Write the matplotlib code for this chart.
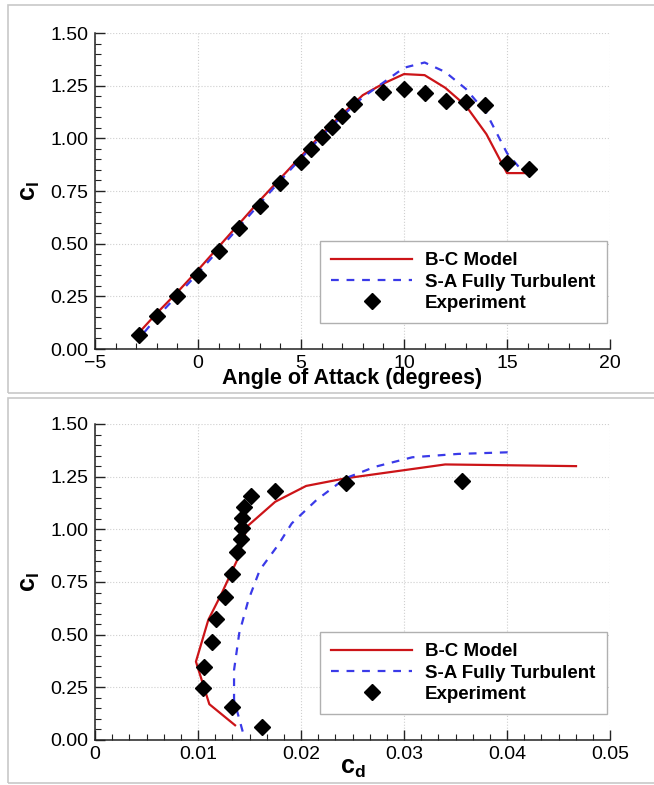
import numpy as np
import matplotlib
matplotlib.use('Agg')
import matplotlib.pyplot as plt
from matplotlib.ticker import MultipleLocator, AutoMinorLocator
from matplotlib.lines import Line2D

plt.rcParams['font.family'] = ['Liberation Sans', 'DejaVu Sans']
plt.rcParams['mathtext.fontset'] = 'custom'
plt.rcParams['mathtext.rm'] = 'Liberation Sans'
plt.rcParams['mathtext.bf'] = 'Liberation Sans:bold'

# lift curve, B-C model
bc_alpha = [-2.75, -2, -1, 0, 1, 2, 3, 4, 5, 6, 7, 8, 9, 10, 11, 12, 13, 14, 15, 16]
bc_cl = [0.09, 0.17, 0.27, 0.375, 0.485, 0.595, 0.705, 0.81, 0.915, 1.02, 1.115,
         1.205, 1.26, 1.305, 1.30, 1.24, 1.155, 1.02, 0.835, 0.835]

# lift curve, S-A fully turbulent
sa_alpha = [-2.6, -2, -1, 0, 1, 2, 3, 4, 5, 6, 7, 8, 9, 10, 11, 12, 13, 14, 15, 15.7]
sa_cl = [0.08, 0.15, 0.255, 0.36, 0.47, 0.58, 0.69, 0.80, 0.905, 1.01, 1.105,
         1.195, 1.265, 1.335, 1.36, 1.315, 1.235, 1.12, 0.93, 0.85]

# experiment, lift curve
exp_alpha = [-2.85, -2.0, -1.0, 0.0, 1.0, 2.0, 3.0, 4.0, 5.0, 5.5, 6.0, 6.5, 7.0, 7.55,
             9.0, 10.0, 11.0, 12.05, 13.0, 13.95, 15.0, 16.05]
exp_cl = [0.065, 0.158, 0.253, 0.35, 0.467, 0.572, 0.679, 0.786, 0.889, 0.947, 1.007,
          1.053, 1.105, 1.161, 1.219, 1.232, 1.213, 1.175, 1.172, 1.156, 0.884, 0.853]

# drag polar, B-C model
bc_cd = [0.0136, 0.0111, 0.0098, 0.0110, 0.0123, 0.0138, 0.0148, 0.0175, 0.0205,
         0.0243, 0.0340, 0.0467]
bc_cl2 = [0.070, 0.170, 0.372, 0.570, 0.696, 0.854, 1.015, 1.131, 1.206, 1.242,
          1.308, 1.300]

# drag polar, S-A fully turbulent
sa_cd = [0.01434, 0.0135, 0.0135, 0.0140, 0.01489, 0.0160, 0.01777, 0.0191, 0.0215,
         0.0243, 0.0272, 0.0308, 0.03525, 0.0403]
sa_cl2 = [0.04, 0.19, 0.332, 0.506, 0.664, 0.807, 0.925, 1.028, 1.139, 1.242, 1.297,
          1.342, 1.358, 1.366]

# experiment, drag polar
exp_cd = [0.01625, 0.01326, 0.01047, 0.01055, 0.01132, 0.01176, 0.01265, 0.01326,
          0.01374, 0.01415, 0.01431, 0.01423, 0.01447, 0.01512, 0.01746, 0.02433, 0.03565]
exp_cl2 = [0.063, 0.155, 0.248, 0.348, 0.464, 0.573, 0.679, 0.786, 0.892, 0.953,
           1.005, 1.054, 1.104, 1.157, 1.184, 1.218, 1.231]

labels = ['B-C Model', 'S-A Fully Turbulent', 'Experiment']

RED = '#cc1418'
BLUE = '#3a3ae8'
MS = 8.3

fig = plt.figure(figsize=(6.54, 7.85), dpi=100)

# panel frames
for y0, y1 in [(5, 393), (398, 783)]:
    fig.add_artist(plt.Rectangle((8 / 654, 1 - y1 / 785), 1.0, (y1 - y0) / 785,
                                 transform=fig.transFigure, fill=False,
                                 edgecolor='#c8c8c8', lw=1.2))


def style(ax):
    for s in ['top', 'right']:
        ax.spines[s].set_visible(False)
    for s in ['left', 'bottom']:
        ax.spines[s].set_linewidth(1.1)
        ax.spines[s].set_color('#222222')
    ax.tick_params(which='both', direction='in', labelsize=14, color='#222222')
    ax.tick_params(which='major', length=7, width=1.0, pad=4)
    ax.tick_params(which='minor', length=4, width=0.8)
    ax.tick_params(axis='y', which='major', pad=5)
    ax.grid(True, which='major', color='#cfcfcf', ls=':', lw=0.8)
    ax.set_axisbelow(True)
    ax.set_ylim(0, 1.5)
    ax.yaxis.set_major_locator(MultipleLocator(0.25))
    ax.yaxis.set_minor_locator(MultipleLocator(0.05))
    ax.yaxis.set_major_formatter(matplotlib.ticker.FormatStrFormatter('%.2f'))
    ax.set_ylabel(r'$\mathbf{c}_{\mathbf{l}}$', fontsize=18)
    ax.yaxis.set_label_coords(-0.102, 0.5)


def add_legend(ax):
    handles = [Line2D([], [], color=RED, lw=1.6),
               Line2D([], [], color=BLUE, lw=1.6, ls=(0, (3.5, 3.5))),
               Line2D([], [], color='k', ls='none', marker='D', markersize=MS)]
    leg = ax.legend(handles, labels, loc='lower left', bbox_to_anchor=(0.437, 0.082),
                    prop={'weight': 'bold', 'size': 13.5}, handlelength=4.3,
                    handletextpad=0.7, labelspacing=0.22, borderpad=0.6,
                    borderaxespad=0, fancybox=False, framealpha=1, edgecolor='#b0b0b0')
    leg.get_frame().set_linewidth(1.0)
    leg.set_zorder(5)


# top: lift curve
ax1 = fig.add_axes([95 / 654, 1 - 349 / 785, 515 / 654, 316 / 785])
style(ax1)
ax1.set_xlim(-5, 20)
ax1.xaxis.set_major_locator(MultipleLocator(5))
ax1.xaxis.set_minor_locator(MultipleLocator(1))
ax1.plot(bc_alpha, bc_cl, color=RED, lw=1.6, zorder=3)
ax1.plot(sa_alpha, sa_cl, color=BLUE, lw=1.6, ls=(0, (3.5, 3.5)), zorder=3)
ax1.plot(exp_alpha, exp_cl, ls='none', marker='D', markersize=MS, color='k', zorder=4)
ax1.set_xlabel('Angle of Attack (degrees)', fontsize=15.5, fontweight='bold')
ax1.xaxis.set_label_coords(0.5, -0.06)
add_legend(ax1)

# bottom: drag polar
ax2 = fig.add_axes([95 / 654, 1 - 740 / 785, 515 / 654, 316 / 785])
style(ax2)
ax2.set_xlim(0, 0.05)
ax2.xaxis.set_major_locator(MultipleLocator(0.01))
ax2.xaxis.set_minor_locator(AutoMinorLocator(6))
ax2.xaxis.set_major_formatter(matplotlib.ticker.FuncFormatter(
    lambda v, p: '0' if abs(v) < 1e-12 else '%.2f' % v))
ax2.plot(bc_cd, bc_cl2, color=RED, lw=1.6, zorder=3)
ax2.plot(sa_cd, sa_cl2, color=BLUE, lw=1.6, ls=(0, (3.5, 3.5)), zorder=3)
ax2.plot(exp_cd, exp_cl2, ls='none', marker='D', markersize=MS, color='k', zorder=4)
ax2.set_xlabel(r'$\mathbf{c}_{\mathbf{d}}$', fontsize=18, labelpad=-5)
add_legend(ax2)

fig.savefig('out.png', dpi=100)
